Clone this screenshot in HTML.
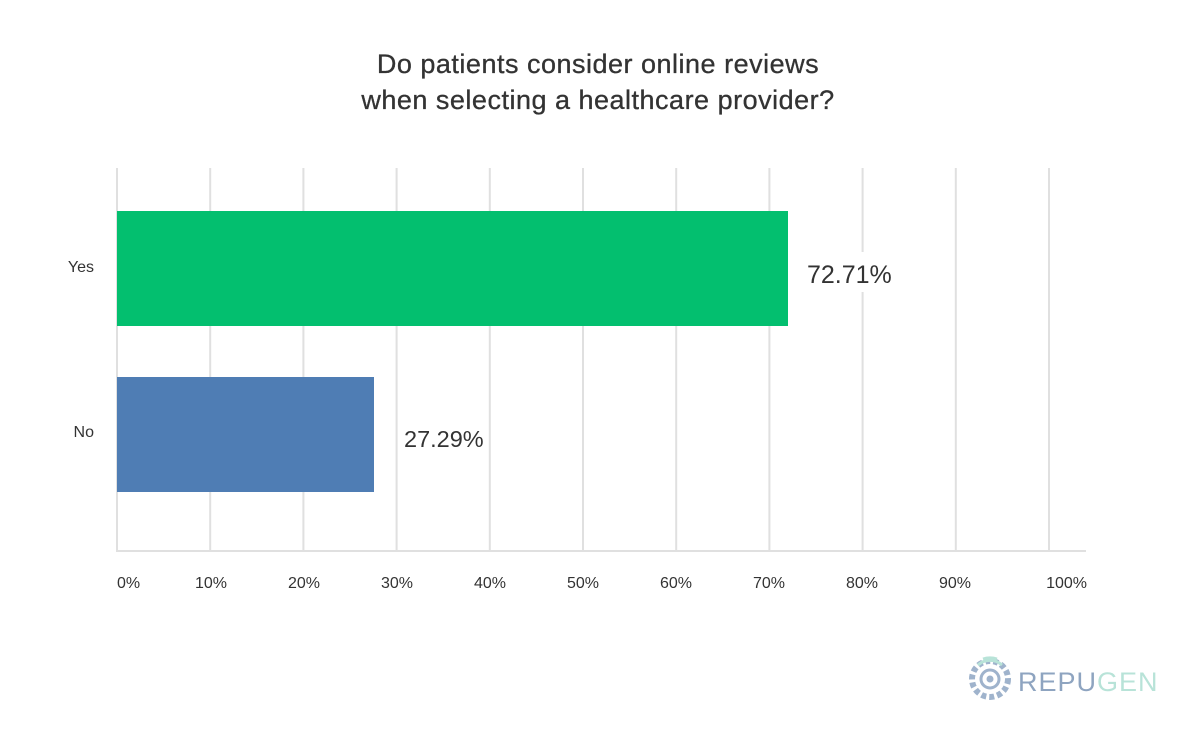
<!DOCTYPE html>
<html><head><meta charset="utf-8"><style>
html,body{margin:0;padding:0;background:#fff;}
svg{display:block;font-family:"Liberation Sans",sans-serif;}
</style></head><body>
<svg width="1200" height="742" viewBox="0 0 1200 742">
<rect width="1200" height="742" fill="#fff"/>
<text x="598" y="73" text-anchor="middle" font-size="27" fill="#333" stroke="#333" stroke-width="0.3" letter-spacing="0.5">Do patients consider online reviews</text>
<text x="598" y="109" text-anchor="middle" font-size="27" fill="#333" stroke="#333" stroke-width="0.3" letter-spacing="0.5">when selecting a healthcare provider?</text>
<g stroke="#e0e0e0" stroke-width="2">
<line x1="117" y1="168" x2="117" y2="551"/>
<line x1="210.2" y1="168" x2="210.2" y2="551"/>
<line x1="303.4" y1="168" x2="303.4" y2="551"/>
<line x1="396.6" y1="168" x2="396.6" y2="551"/>
<line x1="489.8" y1="168" x2="489.8" y2="551"/>
<line x1="583" y1="168" x2="583" y2="551"/>
<line x1="676.2" y1="168" x2="676.2" y2="551"/>
<line x1="769.4" y1="168" x2="769.4" y2="551"/>
<line x1="862.6" y1="168" x2="862.6" y2="551"/>
<line x1="955.8" y1="168" x2="955.8" y2="551"/>
<line x1="1049" y1="168" x2="1049" y2="551"/>
<line x1="116" y1="551" x2="1086" y2="551"/>
</g>
<rect x="117" y="211" width="671" height="115" fill="#03bf6f"/>
<rect x="117" y="377" width="257" height="115" fill="#4f7db4"/>
<rect x="800" y="252" width="95" height="40" fill="#fff"/>
<text x="807" y="283" font-size="25" fill="#333">72.71%</text>
<text x="404" y="447" font-size="23.5" fill="#333">27.29%</text>
<text x="94" y="272" text-anchor="end" font-size="16" fill="#333">Yes</text>
<text x="94" y="437" text-anchor="end" font-size="16" fill="#333">No</text>
<g font-size="16" fill="#333" text-anchor="middle">
<text x="117" y="588" text-anchor="start">0%</text>
<text x="211" y="588">10%</text>
<text x="304" y="588">20%</text>
<text x="397" y="588">30%</text>
<text x="490" y="588">40%</text>
<text x="583" y="588">50%</text>
<text x="676" y="588">60%</text>
<text x="769" y="588">70%</text>
<text x="862" y="588">80%</text>
<text x="955" y="588">90%</text>
<text x="1087" y="588" text-anchor="end">100%</text>
</g>
<g transform="translate(990,679)">
<circle r="18" fill="none" stroke="#9fb3cc" stroke-width="6" stroke-dasharray="5 3"/>
<circle r="13" fill="#fff"/>
<circle r="9" fill="none" stroke="#9fb3cc" stroke-width="3"/>
<circle r="3.5" fill="#9fb3cc"/>
<path d="M-12 -14 A18 18 0 0 1 12 -14" fill="none" stroke="#b8e3d8" stroke-width="3"/>
<path d="M-7 -20 A24 24 0 0 1 7 -20" fill="none" stroke="#b8e3d8" stroke-width="3"/>
</g>
<text x="1018" y="691" font-size="27" fill="#8ea4c0" letter-spacing="1">REPU<tspan fill="#b8e3d8">GEN</tspan></text>
</svg>
</body></html>
